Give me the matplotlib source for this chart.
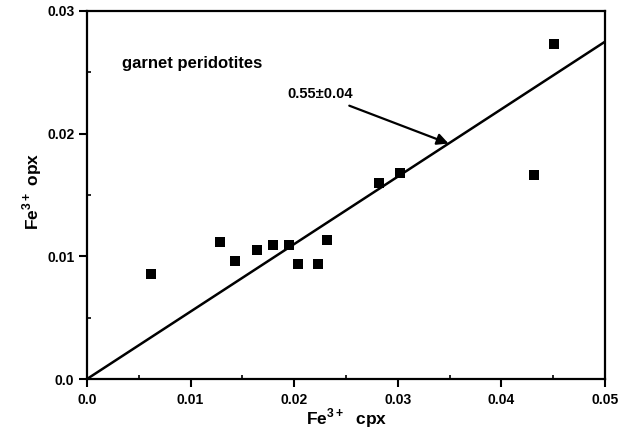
import matplotlib
matplotlib.use("Agg")
import matplotlib.pyplot as plt
import numpy as np
from matplotlib.ticker import MultipleLocator, FixedFormatter, FixedLocator

plt.rcParams["font.family"] = ["Liberation Sans", "DejaVu Sans"]
plt.rcParams["font.weight"] = "bold"
plt.rcParams["mathtext.fontset"] = "custom"
plt.rcParams["mathtext.rm"] = "Liberation Sans:bold"
plt.rcParams["mathtext.bf"] = "Liberation Sans:bold"

# Fe3+ in clinopyroxene vs orthopyroxene, garnet peridotites
fe3_cpx = [0.0062, 0.0128, 0.0143, 0.0164, 0.0180, 0.0195, 0.0204, 0.0223,
           0.0232, 0.0282, 0.0302, 0.0431, 0.0451]
fe3_opx = [0.0086, 0.0112, 0.0096, 0.0105, 0.0109, 0.0109, 0.0094, 0.0094,
           0.0113, 0.0160, 0.0168, 0.0166, 0.0273]

slope = 0.55
slope_label = "0.55\u00b10.04"

x_ticks = [0.0, 0.01, 0.02, 0.03, 0.04, 0.05]
x_tick_labels = ["0.0", "0.01", "0.02", "0.03", "0.04", "0.05"]
y_ticks = [0.0, 0.01, 0.02, 0.03]
y_tick_labels = ["0.0", "0.01", "0.02", "0.03"]

fig = plt.figure(figsize=(6.24, 4.36), dpi=100)
ax = fig.add_axes([0.1394, 0.1307, 0.8302, 0.8441])

ax.plot(fe3_cpx, fe3_opx, linestyle="none", marker="s", markersize=6.5,
        color="black", markeredgewidth=0)

xl = np.array([0.0, 0.05])
ax.plot(xl, slope * xl, color="black", linewidth=1.8, solid_capstyle="butt")

ax.set_xlim(0, 0.05)
ax.set_ylim(0, 0.03)

ax.xaxis.set_major_locator(FixedLocator(x_ticks))
ax.xaxis.set_major_formatter(FixedFormatter(x_tick_labels))
ax.yaxis.set_major_locator(FixedLocator(y_ticks))
ax.yaxis.set_major_formatter(FixedFormatter(y_tick_labels))
ax.xaxis.set_minor_locator(MultipleLocator(0.005))
ax.yaxis.set_minor_locator(MultipleLocator(0.005))

ax.tick_params(which="major", direction="out", length=6, width=1.5,
               labelsize=10, pad=4)
ax.tick_params(axis="y", which="major", pad=3)
ax.tick_params(which="minor", direction="in", length=3, width=1.2)
for s in ax.spines.values():
    s.set_linewidth(1.6)

ax.text(0.0034, 0.0257, "garnet peridotites", fontsize=12, fontweight="bold",
        va="center", ha="left")

# arrow from the slope label to the fitted line
tip_x = 0.0349
ax.annotate(slope_label, xy=(tip_x, slope * tip_x), xytext=(0.0193, 0.0232),
            fontsize=10.5, fontweight="bold", va="center", ha="left",
            arrowprops=dict(arrowstyle="-|>", color="black", lw=1.6,
                            mutation_scale=17, shrinkA=3, shrinkB=0))

fig.text(0.555, 0.040, r"Fe$^{\mathbf{3+}}$  cpx", fontsize=12.5,
         fontweight="bold", ha="center", va="center")
fig.text(0.052, 0.562, r"Fe$^{\mathbf{3+}}$ opx", fontsize=12.5,
         fontweight="bold", ha="center", va="center", rotation=90)

fig.savefig("out.png", dpi=100)
